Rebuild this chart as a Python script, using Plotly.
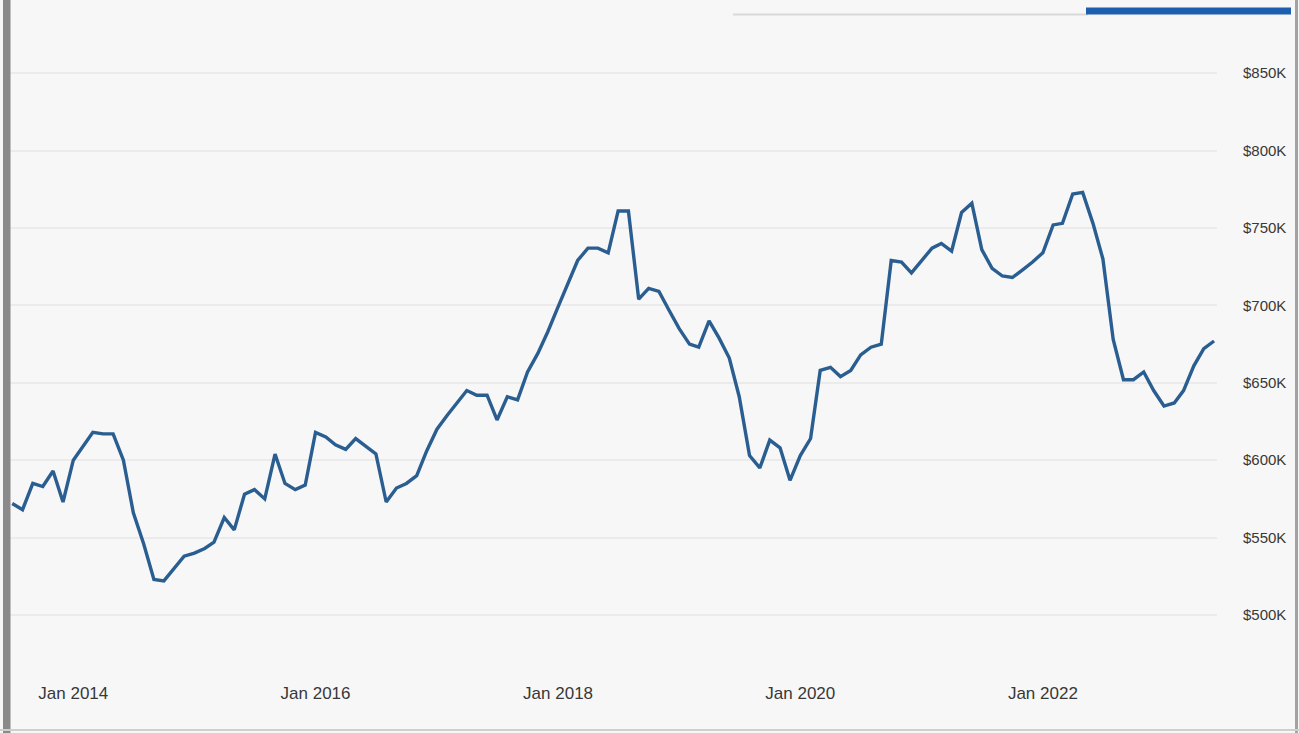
import pandas as pd
import plotly.graph_objects as go

# Monthly median sale price, in thousands of dollars, Jul 2013 - Jun 2023
start_month = "2013-07-01"
median_price_k = [
    572, 568, 585, 583, 593, 573,            # Jul-Dec 2013
    600, 609, 618, 617, 617, 600, 566, 546, 523, 522, 530, 538,   # 2014
    540, 543, 547, 563, 555, 578, 581, 575, 604, 585, 581, 584,   # 2015
    618, 615, 610, 607, 614, 609, 604, 573, 582, 585, 590, 606,   # 2016
    620, 629, 637, 645, 642, 642, 626, 641, 639, 657, 669, 683,   # 2017
    699, 715, 729, 737, 737, 734, 761, 761, 704, 711, 709, 697,   # 2018
    685, 675, 673, 690, 679, 666, 641, 603, 595, 613, 608, 587,   # 2019
    603, 614, 658, 660, 654, 658, 668, 673, 675, 729, 728, 721,   # 2020
    729, 737, 740, 735, 760, 766, 736, 724, 719, 718, 723, 728,   # 2021
    734, 752, 753, 772, 773, 753, 730, 678, 652, 652, 657, 645,   # 2022
    635, 637, 645, 661, 672, 677,            # Jan-Jun 2023
]
months = pd.date_range(start_month, periods=len(median_price_k), freq="MS")
prices = [v * 1000 for v in median_price_k]

# Axis ticks
x_tick_dates = ["2014-01-01", "2016-01-01", "2018-01-01", "2020-01-01", "2022-01-01"]
x_tick_text = ["Jan 2014", "Jan 2016", "Jan 2018", "Jan 2020", "Jan 2022"]
y_tick_values = [500000, 550000, 600000, 650000, 700000, 750000, 800000, 850000]
y_tick_text = ["$500K", "$550K", "$600K", "$650K", "$700K", "$750K", "$800K", "$850K"]

W, H = 1299, 733
L, R, T, B = 10, 1217, 20, 665   # plot area edges in pixels


def px(x):
    return (x - L) / (R - L)


def py(y):
    return (B - y) / (B - T)


fig = go.Figure(
    go.Scatter(
        x=months,
        y=prices,
        mode="lines",
        line=dict(color="#2a5e91", width=3.4),
        hoverinfo="skip",
    )
)

bg = "#f7f7f7"
font_family = "Liberation Sans, Arial, sans-serif"

fig.update_layout(
    width=W,
    height=H,
    margin=dict(l=L, r=W - R, t=T, b=H - B, pad=0),
    paper_bgcolor=bg,
    plot_bgcolor=bg,
    showlegend=False,
    xaxis=dict(
        type="date",
        range=["2013-06-24 06:00", "2023-06-09 20:00"],
        tickvals=x_tick_dates,
        ticktext=x_tick_text,
        ticks="outside",
        ticklen=13,
        tickcolor="rgba(0,0,0,0)",
        tickfont=dict(family=font_family, size=17, color="#383838"),
        showgrid=False,
        zeroline=False,
        showline=False,
    ),
    yaxis=dict(
        side="right",
        range=[467700, 884370],
        tickvals=y_tick_values,
        ticktext=y_tick_text,
        ticks="outside",
        ticklen=22,
        tickcolor="rgba(0,0,0,0)",
        tickfont=dict(family=font_family, size=15, color="#383838"),
        showgrid=True,
        gridcolor="#ebebeb",
        gridwidth=1.5,
        zeroline=False,
        showline=False,
    ),
)

shapes = [
    # frame: heavy left edge, thin right and bottom edges
    dict(type="rect", xref="paper", yref="paper",
         x0=px(3), x1=px(10.5), y0=py(H), y1=py(0),
         fillcolor="#8a8a8a", line=dict(width=0), layer="above"),
    dict(type="rect", xref="paper", yref="paper",
         x0=px(1295), x1=px(1298), y0=py(H), y1=py(0),
         fillcolor="#a3a3a3", line=dict(width=0), layer="above"),
    dict(type="rect", xref="paper", yref="paper",
         x0=px(0), x1=px(W), y0=py(731), y1=py(729),
         fillcolor="#cfcfcf", line=dict(width=0), layer="above"),
    # range slider track and selected segment at the top
    dict(type="rect", xref="paper", yref="paper",
         x0=px(733), x1=px(1088), y0=py(15.5), y1=py(13.5),
         fillcolor="#d9d9d9", line=dict(width=0), layer="above"),
    dict(type="rect", xref="paper", yref="paper",
         x0=px(1086), x1=px(1291), y0=py(14.5), y1=py(7.5),
         fillcolor="#1d5eae", line=dict(width=0), layer="above"),
]
fig.update_layout(shapes=shapes)

fig.write_html("out.html")
